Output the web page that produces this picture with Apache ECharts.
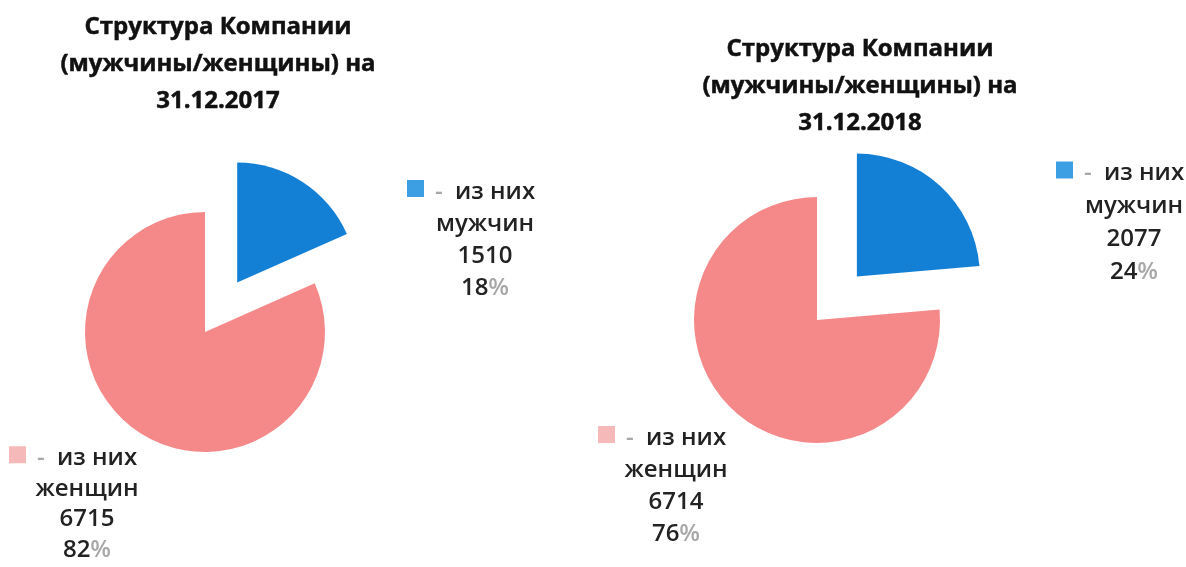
<!DOCTYPE html>
<html>
<head>
<meta charset="utf-8">
<script src="https://cdn.jsdelivr.net/npm/echarts@6/dist/echarts.min.js"></script>
<style>
  html, body { margin: 0; padding: 0; background: #fff; }
  #main { width: 1186px; height: 567px; }
</style>
</head>
<body>
<div id="main"></div>
<script>
  // данные
  var years = ['31.12.2017', '31.12.2018'];
  var categories = ['мужчин', 'женщин'];
  var men = [1510, 2077];
  var women = [6715, 6714];

  var sliceColors = ['#1380d6', '#f5898a'];
  var squareColors = ['#3d9fe3', '#f6b9b9'];

  var myChart = echarts.init(document.getElementById('main'));

  var pieCenters = [[205, 332], [817, 320]];
  var pieRadius = [120, 123];
  var titlePos = [{ left: 218, top: 9 }, { left: 860, top: 31 }];
  // блоки подписей: левый верхний угол и межстрочный интервал
  var blockPos = [
    [{ x: 407, y: 176, lh: 32 }, { x: 9, y: 443, lh: 30.5 }],
    [{ x: 1056, y: 157, lh: 33 }, { x: 598, y: 422, lh: 32 }]
  ];

  var fontName = '"Open Sans", "Noto Sans", sans-serif';

  var titles = [];
  var series = [];
  var graphics = [];

  years.forEach(function (year, i) {
    titles.push({
      text: 'Структура Компании\n(мужчины/женщины) на\n' + year,
      left: titlePos[i].left,
      top: titlePos[i].top,
      textAlign: 'center',
      padding: 0,
      textStyle: {
        fontFamily: fontName,
        fontWeight: 'bold',
        fontSize: 24,
        lineHeight: 37,
        color: '#111',
        textBorderColor: '#111',
        textBorderWidth: 0.5
      }
    });

    series.push({
      type: 'pie',
      center: pieCenters[i],
      radius: pieRadius[i],
      startAngle: 90,
      selectedMode: 'single',
      selectedOffset: 59,
      label: { show: false },
      labelLine: { show: false },
      data: [
        { name: categories[0], value: men[i], selected: true, itemStyle: { color: sliceColors[0] } },
        { name: categories[1], value: women[i], itemStyle: { color: sliceColors[1] } }
      ],
      emphasis: { scale: false }
    });

    // подписи с квадратиком, как в легенде Excel
    var values = [men[i], women[i]];
    var total = men[i] + women[i];
    values.forEach(function (v, k) {
      var pos = blockPos[i][k];
      var pct = Math.round(v / total * 100);
      var base = { fontFamily: fontName, fontSize: 24, fontWeight: 600, lineHeight: pos.lh, fill: '#222' };
      var light = { fontFamily: fontName, fontSize: 24, fontWeight: 600, lineHeight: pos.lh, fill: '#a8a8a8' };
      graphics.push({
        type: 'group',
        x: pos.x,
        y: pos.y,
        children: [
          {
            type: 'rect',
            shape: { x: 0, y: pos.lh / 2 - 12, width: 17, height: 17 },
            style: { fill: squareColors[k] }
          },
          {
            type: 'text',
            x: 78,
            y: 0,
            style: {
              text: '{g|-}{a|  из них}\n{a|' + categories[k] + '}\n{a|' + v + '}\n{a|' + pct + '}{g|%}',
              align: 'center',
              verticalAlign: 'top',
              fontFamily: fontName,
              fontSize: 24,
              fontWeight: 600,
              lineHeight: pos.lh,
              fill: '#222',
              rich: { a: base, g: light }
            }
          }
        ]
      });
    });
  });

  var option = {
    animation: false,
    backgroundColor: '#ffffff',
    title: titles,
    series: series,
    graphic: graphics
  };

  myChart.setOption(option);
</script>
</body>
</html>
